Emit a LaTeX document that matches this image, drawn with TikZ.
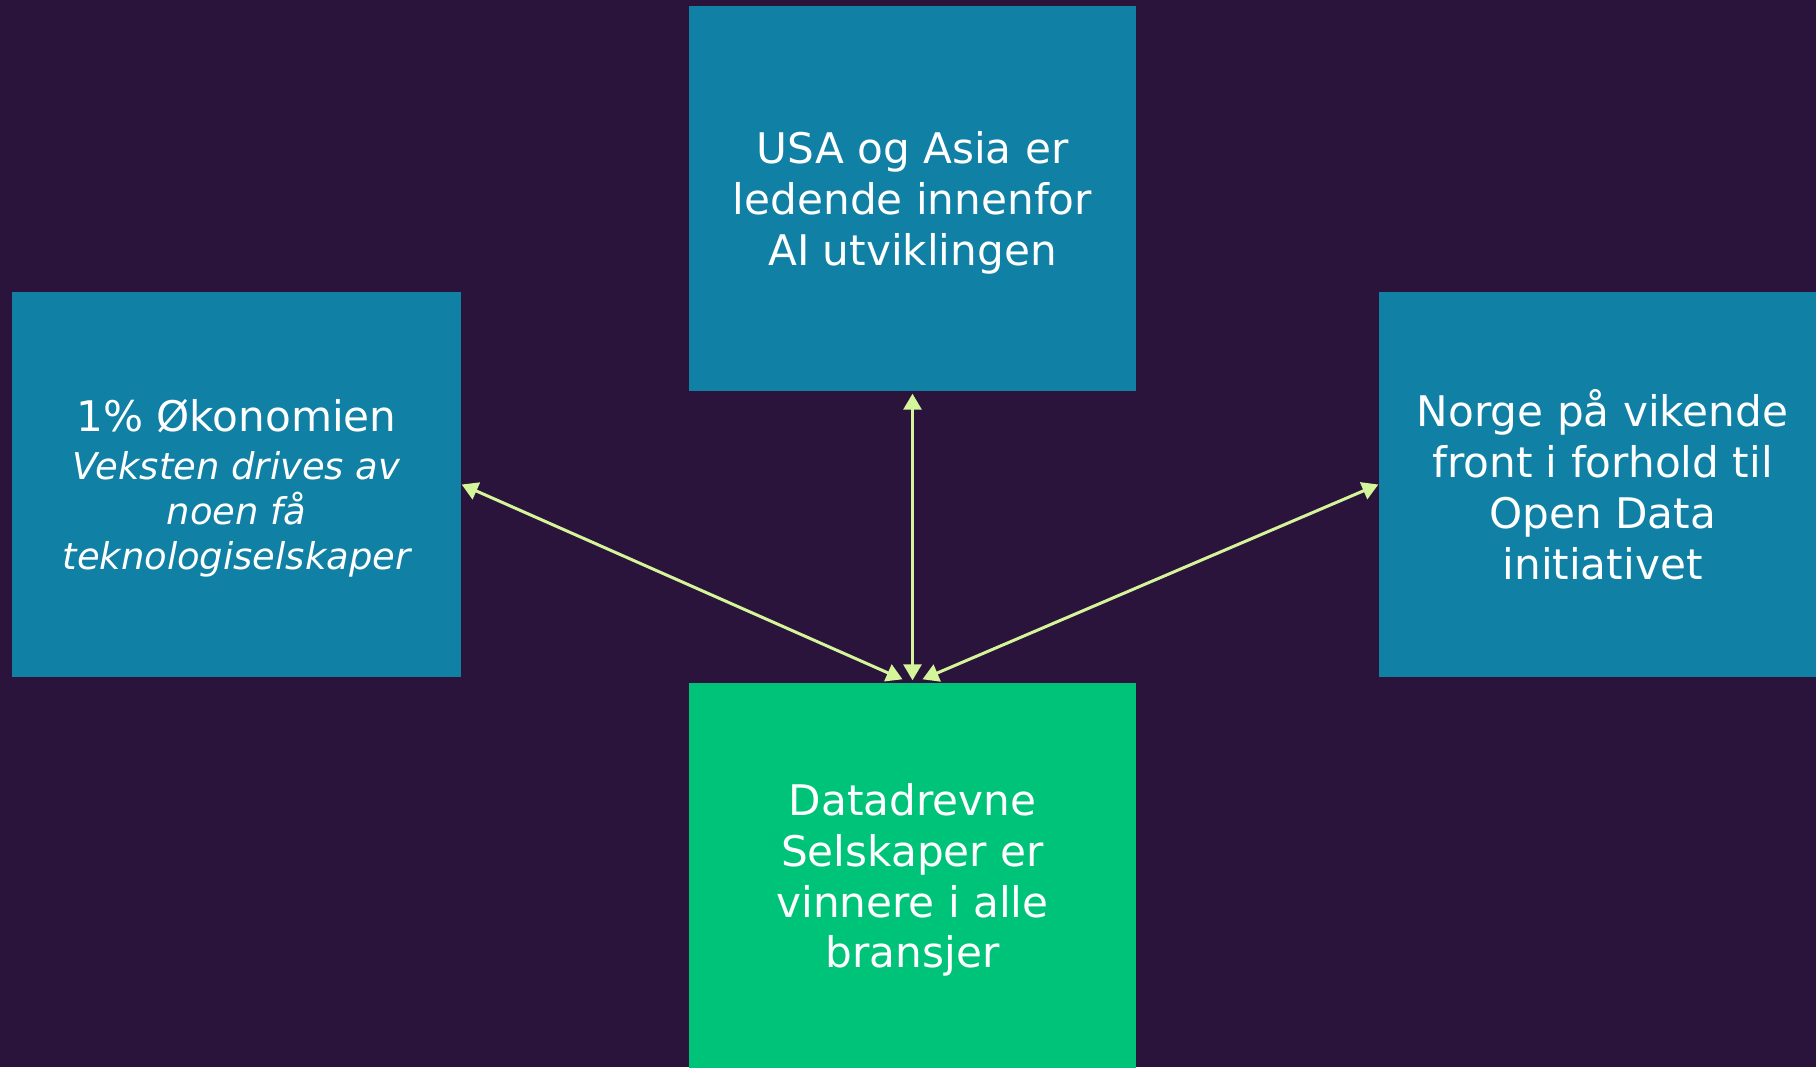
\documentclass[tikz,border=0pt]{standalone}
\usepackage{fontspec}
\setmainfont{DejaVu Sans}
\usepackage{xcolor}
\usetikzlibrary{arrows.meta}

\definecolor{bakgrunn}{HTML}{2B143B}
\definecolor{blokkblaa}{HTML}{1080A5}
\definecolor{blokkgronn}{HTML}{00C37A}
\definecolor{pilgul}{HTML}{D4F59A}

\tikzset{
  blokk/.style={minimum width=4.47cm, minimum height=3.85cm, inner sep=0pt,
    text=white, align=center, text depth=0pt, font=\fontsize{12}{14.5}\selectfont},
  pil/.style={draw=pilgul, line width=0.85pt,
    {Triangle[length=0.16cm,width=0.18cm]}-{Triangle[length=0.16cm,width=0.18cm]}}
}

\begin{document}
\begin{tikzpicture}
  \useasboundingbox (0,0) rectangle (18.16,10.67);
  \fill[bakgrunn] (0,0) rectangle (18.16,10.67);

  \node[blokk, fill=blokkblaa] (usa) at (9.125, 8.685)
    {USA og Asia er\\ ledende innenfor\\ AI utviklingen};
  \node[blokk, fill=blokkblaa, minimum width=4.49cm] (okonomi) at (2.365, 5.825)
    {1\% Økonomien\\[-0.7pt]
     {\fontsize{10.5}{12.8}\selectfont\itshape Veksten drives av}\\[-1.7pt]
     {\fontsize{10.5}{12.8}\selectfont\itshape noen få}\\[-1.7pt]
     {\fontsize{10.5}{12.8}\selectfont\itshape teknologiselskaper}};
  \node[blokk, fill=blokkblaa] (norge) at (16.025, 5.825)
    {Norge på vikende\\ front i forhold til\\ Open Data\\ initiativet};
  \node[blokk, fill=blokkgronn] (datadrevne) at (9.125, 1.915)
    {Datadrevne\\ Selskaper er\\ vinnere i alle\\ bransjer};

  \draw[pil] ([yshift=0.02cm]datadrevne.north) -- ([yshift=-0.02cm]usa.south); % midt
  \draw[pil] ([xshift=-0.1cm,yshift=0.03cm]datadrevne.north) -- (okonomi.east); % venstre
  \draw[pil] ([xshift=0.1cm,yshift=0.03cm]datadrevne.north) -- (norge.west); % hoyre
\end{tikzpicture}
\end{document}
